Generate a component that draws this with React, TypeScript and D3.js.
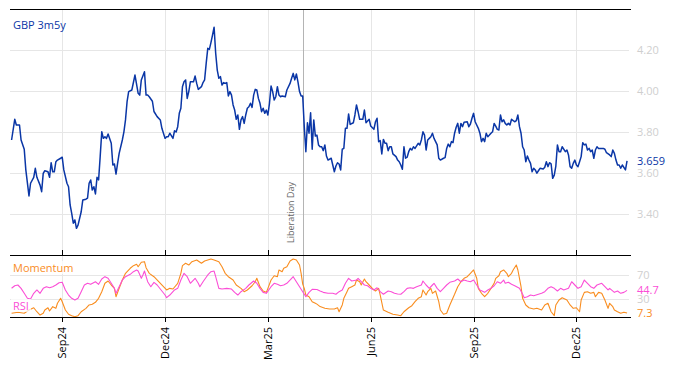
import React from 'react';
import * as d3 from 'd3';

// x is a weekday index: 0 = Mon 2 Sep 2024
const tickDays = [0, 65, 130, 195, 260, 325];
const tickLabels = ['Sep24', 'Dec24', 'Mar25', 'Jun25', 'Sep25', 'Dec25'];
const eventDay = 152;
const eventLabel = 'Liberation Day';

const seriesName = 'GBP 3m5y';
const mainTicks = [3.4, 3.6, 3.8, 4.0, 4.2];
const subTicks = [30, 70];

const gbp3m5y: [number, number][] = [
  [-32, 3.761], [-30, 3.862], [-29, 3.834], [-27, 3.834], [-26, 3.761], [-24, 3.716], [-23, 3.615], [-21, 3.488],
  [-20, 3.55], [-18, 3.579], [-17, 3.623], [-16, 3.579], [-14, 3.541], [-13, 3.509], [-12, 3.598], [-11, 3.611],
  [-9, 3.606], [-8, 3.579], [-7, 3.65], [-6, 3.606], [-5, 3.606], [-4, 3.655], [-3, 3.663], [-1, 3.672],
  [0, 3.677], [1, 3.615], [3, 3.55], [4, 3.533], [5, 3.444], [6, 3.403], [7, 3.355], [8, 3.371],
  [9, 3.33], [10, 3.346], [12, 3.411], [13, 3.468], [15, 3.472], [16, 3.477], [17, 3.55], [18, 3.566],
  [19, 3.517], [20, 3.533], [21, 3.498], [22, 3.579], [23, 3.566], [24, 3.68], [25, 3.801], [26, 3.769],
  [27, 3.777], [28, 3.769], [29, 3.79], [31, 3.745], [32, 3.639], [33, 3.644], [34, 3.595], [35, 3.647],
  [36, 3.696], [38, 3.761], [39, 3.801], [40, 3.859], [41, 3.948], [42, 3.997], [44, 4.005], [46, 4.078],
  [48, 3.989], [49, 3.98], [50, 4.054], [52, 4.094], [53, 3.98], [54, 3.98], [55, 3.972], [57, 3.95],
  [58, 3.9], [60, 3.875], [62, 3.859], [63, 3.818], [65, 3.769], [66, 3.777], [67, 3.777], [68, 3.794],
  [70, 3.769], [71, 3.806], [72, 3.8], [73, 3.826], [74, 3.891], [75, 3.916], [76, 4.021], [77, 4.045],
  [78, 4.054], [79, 3.964], [80, 3.997], [81, 4.045], [83, 4.045], [84, 4.073], [85, 4.037], [86, 4.008],
  [88, 4.021], [89, 4.041], [90, 4.054], [91, 4.135], [92, 4.208], [93, 4.203], [94, 4.236], [95, 4.273],
  [96, 4.311], [97, 4.184], [98, 4.102], [99, 4.062], [100, 4.07], [101, 4.029], [102, 4.041], [103, 4.037],
  [104, 4.041], [105, 3.976], [106, 3.997], [107, 3.98], [108, 3.932], [109, 3.907], [110, 3.862], [111, 3.883],
  [112, 3.813], [113, 3.859], [114, 3.875], [115, 3.842], [116, 3.883], [117, 3.916], [118, 3.923], [119, 3.94],
  [120, 3.92], [121, 3.98], [122, 4.008], [123, 4.005], [124, 3.964], [125, 3.94], [126, 3.899], [127, 3.916],
  [128, 3.891], [129, 3.907], [130, 3.883], [131, 3.94], [132, 4.024], [133, 3.997], [134, 3.956], [135, 3.972],
  [136, 4.021], [137, 3.98], [138, 3.972], [139, 3.976], [141, 3.972], [142, 4.005], [144, 4.037], [145, 4.062],
  [146, 4.086], [147, 4.054], [148, 4.083], [149, 4.045], [150, 3.997], [151, 3.976], [152, 3.976], [153, 3.826],
  [154, 3.704], [155, 3.845], [156, 3.794], [157, 3.894], [158, 3.716], [159, 3.859], [160, 3.78], [161, 3.785],
  [162, 3.737], [163, 3.728], [164, 3.728], [165, 3.709], [166, 3.737], [167, 3.683], [168, 3.663], [170, 3.672],
  [171, 3.639], [172, 3.606], [173, 3.634], [174, 3.65], [175, 3.644], [176, 3.615], [177, 3.716], [178, 3.72],
  [179, 3.818], [180, 3.818], [181, 3.888], [182, 3.837], [184, 3.845], [185, 3.883], [186, 3.932], [187, 3.899],
  [188, 3.862], [190, 3.862], [191, 3.907], [192, 3.845], [194, 3.862], [195, 3.829], [197, 3.813], [198, 3.85],
  [199, 3.867], [200, 3.753], [201, 3.758], [202, 3.693], [203, 3.764], [204, 3.745], [205, 3.745], [206, 3.709],
  [207, 3.728], [208, 3.728], [209, 3.693], [211, 3.68], [212, 3.663], [213, 3.655], [214, 3.639], [215, 3.618],
  [216, 3.728], [217, 3.672], [218, 3.677], [219, 3.704], [220, 3.72], [221, 3.712], [222, 3.728], [223, 3.72],
  [225, 3.745], [226, 3.737], [227, 3.761], [228, 3.801], [229, 3.785], [230, 3.712], [231, 3.761], [232, 3.769],
  [233, 3.777], [234, 3.794], [235, 3.769], [236, 3.753], [237, 3.737], [238, 3.672], [239, 3.663], [241, 3.672],
  [242, 3.675], [243, 3.72], [244, 3.741], [245, 3.728], [246, 3.753], [247, 3.748], [248, 3.794], [249, 3.823],
  [250, 3.842], [251, 3.794], [252, 3.842], [253, 3.826], [254, 3.848], [256, 3.85], [257, 3.826], [258, 3.839],
  [259, 3.867], [260, 3.891], [261, 3.85], [263, 3.818], [264, 3.794], [265, 3.753], [266, 3.769], [267, 3.753],
  [268, 3.794], [269, 3.777], [270, 3.785], [271, 3.794], [272, 3.801], [273, 3.842], [274, 3.829], [275, 3.813],
  [276, 3.81], [277, 3.883], [278, 3.85], [279, 3.859], [280, 3.842], [281, 3.834], [282, 3.842], [283, 3.834],
  [284, 3.862], [286, 3.85], [287, 3.855], [288, 3.883], [289, 3.826], [290, 3.794], [291, 3.728], [292, 3.712],
  [293, 3.655], [294, 3.683], [295, 3.663], [296, 3.647], [297, 3.606], [298, 3.623], [299, 3.615], [300, 3.599],
  [301, 3.611], [302, 3.623], [304, 3.62], [305, 3.628], [306, 3.655], [307, 3.631], [308, 3.65], [309, 3.645],
  [310, 3.574], [311, 3.59], [312, 3.634], [313, 3.737], [314, 3.704], [315, 3.704], [316, 3.728], [318, 3.704],
  [319, 3.712], [320, 3.688], [321, 3.631], [322, 3.623], [323, 3.647], [324, 3.663], [325, 3.639], [326, 3.631],
  [327, 3.655], [328, 3.68], [329, 3.748], [330, 3.737], [331, 3.741], [332, 3.712], [333, 3.72], [334, 3.704],
  [335, 3.712], [336, 3.672], [337, 3.712], [338, 3.728], [339, 3.72], [341, 3.72], [342, 3.72], [343, 3.716],
  [344, 3.699], [346, 3.688], [347, 3.68], [348, 3.712], [349, 3.696], [350, 3.663], [351, 3.639], [352, 3.639],
  [353, 3.623], [354, 3.639], [356, 3.615], [357, 3.659],
];

const momentum: [number, number][] = [
  [-32, 6.9], [-28, 8.6], [-24, 6.9], [-21, 12.3], [-18, 16.1], [-16, 9.5], [-14, 4.1], [-12, 6.9],
  [-11, 12.3], [-9, 16.1], [-8, 10.7], [-6, 17.8], [-4, 15.1], [-3, 23.4], [-1, 31.6], [0, 26],
  [2, 12.3], [4, 5.3], [6, 3], [8, 1.3], [10, 3], [12, 9.5], [15, 15.1], [17, 20.6],
  [19, 21.7], [21, 25], [23, 31.6], [25, 42.5], [27, 56.3], [29, 60.1], [31, 53.5], [33, 48],
  [34, 34.2], [36, 48], [38, 61.7], [40, 72.7], [43, 81], [45, 85.3], [47, 87.6], [48, 83.6],
  [50, 90.9], [52, 91.9], [53, 82], [55, 72.7], [58, 67.2], [61, 58.9], [64, 50.7], [66, 45.3],
  [68, 48], [70, 46.9], [73, 56.3], [75, 72.7], [76, 85.3], [78, 89.2], [80, 86.4], [82, 91.9],
  [85, 94.7], [88, 89.2], [90, 93], [92, 94.7], [94, 96.3], [96, 94.7], [99, 91.9], [101, 83.6],
  [103, 72.7], [105, 67.2], [108, 61.7], [110, 53.5], [113, 48], [115, 42.5], [117, 45.3], [120, 52.3],
  [122, 58.9], [123, 64.5], [125, 50.7], [127, 43.6], [129, 41.4], [130, 48], [132, 61.7], [134, 68.8],
  [136, 67.2], [137, 78.2], [139, 75.4], [140, 81], [142, 83.6], [144, 93], [146, 96.3], [148, 94.7],
  [150, 86.4], [151, 72.7], [152, 55], [153, 48], [154, 37], [156, 34.2], [158, 26], [160, 23.4],
  [161, 22], [163, 18], [166, 15.1], [169, 14], [172, 14], [174, 16.1], [175, 9.5], [177, 20.6],
  [178, 31.6], [180, 42.5], [181, 48], [183, 50.7], [185, 53.5], [186, 61.7], [188, 58.9], [189, 53.5],
  [191, 63.4], [192, 58.9], [194, 53.5], [196, 48], [198, 43.6], [200, 48], [201, 37], [203, 12.3],
  [206, 8.6], [209, 5.3], [212, 4.1], [214, 3], [216, 9.5], [219, 16.1], [221, 19.4], [223, 26],
  [225, 31.6], [227, 34.2], [228, 45.3], [230, 37], [231, 42.5], [233, 48], [234, 39.8], [236, 43.6],
  [238, 26], [239, 12.3], [241, 5.3], [243, 6.9], [245, 20.6], [248, 38.2], [250, 50.7], [252, 58.9],
  [254, 64.5], [256, 67.2], [258, 72.7], [260, 78.2], [262, 64.5], [263, 48], [265, 39.8], [267, 34.2],
  [269, 39.8], [271, 48], [273, 56.3], [274, 64.5], [276, 68.8], [277, 75.4], [279, 78.2], [281, 72.7],
  [282, 67.2], [284, 72.7], [285, 78.2], [287, 86.4], [288, 78.2], [290, 50.7], [291, 31.6], [293, 20.6],
  [295, 16.1], [298, 14], [300, 15.1], [303, 12.3], [305, 20.6], [307, 23.4], [309, 9.5], [311, 3],
  [312, 20.6], [314, 28.8], [316, 32.6], [319, 28.8], [321, 20.6], [323, 15.1], [325, 16.1], [327, 9.5],
  [328, 28.8], [330, 41.4], [332, 42.5], [334, 39.8], [336, 41.4], [337, 34.2], [339, 41.4], [341, 39.8],
  [343, 28.8], [345, 15.1], [346, 23.4], [348, 17.8], [349, 12.3], [351, 9.5], [353, 6.9], [355, 8.6],
  [357, 7.3],
];

const rsi: [number, number][] = [
  [-32, 48.1], [-30, 52.3], [-28, 53.5], [-26, 48], [-24, 39.8], [-22, 31.6], [-20, 30.5], [-18, 39.8],
  [-16, 45.3], [-14, 39.8], [-12, 48], [-10, 50.7], [-8, 49], [-6, 50.7], [-4, 53.5], [-2, 57.3],
  [0, 57.9], [2, 45.3], [4, 37], [6, 31.6], [8, 28.8], [10, 31.6], [12, 42.5], [14, 53.5],
  [16, 56.3], [18, 54.6], [21, 58.9], [23, 54.6], [25, 63.4], [27, 67.2], [29, 64.5], [31, 56.3],
  [33, 48], [34, 39.8], [36, 50.7], [38, 61.7], [40, 67.2], [43, 71.1], [45, 75.4], [47, 78.2],
  [48, 76.5], [50, 64.5], [51, 70], [52, 76.5], [54, 58.9], [56, 50.7], [58, 57.9], [60, 53.5],
  [63, 43.6], [65, 37], [66, 32.6], [68, 37], [71, 45.3], [73, 48], [75, 61.7], [77, 72.7],
  [79, 67.2], [81, 56.3], [84, 64.5], [86, 56.3], [87, 50.7], [89, 58.9], [92, 70], [94, 75.4],
  [96, 76.5], [97, 67.2], [99, 48], [101, 46.9], [104, 48], [107, 46.9], [109, 41.4], [111, 37],
  [113, 42.5], [116, 48], [118, 53.5], [121, 60.1], [123, 56.3], [125, 48], [127, 41.4], [129, 39.8],
  [132, 50.7], [134, 56.3], [136, 54.6], [138, 52.3], [140, 53.5], [142, 56.3], [145, 64.5], [146, 67.2],
  [148, 58.9], [150, 50.7], [152, 42.5], [154, 34.2], [156, 41.4], [158, 46.4], [161, 46], [163, 43.6],
  [165, 41.4], [168, 39.8], [171, 39.8], [173, 38.2], [175, 42.5], [177, 45.3], [179, 56.3], [181, 64.5],
  [183, 60.1], [186, 61.7], [187, 64.5], [189, 58.9], [191, 53.5], [193, 52.3], [195, 48], [197, 45.3],
  [199, 49], [201, 42.5], [203, 38.2], [206, 43.6], [208, 42.5], [210, 39.8], [212, 38.7], [214, 38.2],
  [216, 42.5], [218, 48], [220, 49], [222, 48], [224, 50.7], [227, 53.5], [228, 60.1], [230, 53.5],
  [232, 48], [234, 53.5], [235, 56.3], [237, 48], [239, 42.5], [241, 48], [243, 53.5], [245, 57.9],
  [248, 60.1], [250, 63.4], [252, 58.9], [254, 61.7], [256, 60.1], [258, 58.9], [260, 61.7], [262, 53.5],
  [264, 45.3], [267, 41.4], [269, 45.3], [271, 48], [273, 52.3], [275, 58.9], [277, 56.3], [279, 61.7],
  [280, 56.3], [282, 57.9], [284, 54.6], [286, 52.3], [289, 48], [291, 38.2], [292, 32.6], [294, 34.2],
  [296, 37], [298, 35.9], [301, 38.2], [303, 39.8], [305, 42.5], [307, 48], [309, 50.7], [311, 48],
  [313, 43.6], [315, 48], [317, 45.3], [320, 48], [322, 58.9], [324, 53.5], [326, 48], [328, 50.7],
  [330, 61.7], [332, 56.3], [334, 50.7], [336, 48], [338, 53.5], [341, 56.3], [343, 50.7], [345, 45.3],
  [346, 48], [349, 41.4], [351, 43.6], [353, 39.8], [355, 41.4], [357, 44.7],
];

const BLUE = '#0a36a6';
const ORANGE = '#f98d1f';
const PINK = '#fb4ed6';
const GRID = '#e6e6e6';
const FAINT = '#cfcfcf';
const FONT = "'Segoe UI', 'Open Sans', sans-serif";

export default function App() {
  const left = 10;
  const right = 631;
  const mainTop = 9;
  const mainBottom = 255;
  const subBottom = 317;

  const x = d3.scaleLinear().domain([-33, 359.5]).range([left, right]);
  const y = d3.scaleLinear().domain([3.2, 4.4]).range([mainBottom, mainTop]);
  const y2 = d3.scaleLinear().domain([0, 100]).range([317.5, 256.75]);

  const mainLine = d3.line<[number, number]>().x(d => x(d[0])).y(d => y(d[1]));
  const subLine = d3.line<[number, number]>().x(d => x(d[0])).y(d => y2(d[1]));

  const lastMain = gbp3m5y[gbp3m5y.length - 1];
  const lastMom = momentum[momentum.length - 1];
  const lastRsi = rsi[rsi.length - 1];
  const labelX = right + 6;

  return (
    <svg width={674} height={366} style={{ position: 'absolute', left: 0, top: 0, background: '#fff' }}
      fontFamily={FONT}>
      {/* grid */}
      {tickDays.map(d => (
        <line key={'vg' + d} x1={Math.round(x(d)) + 0.5} x2={Math.round(x(d)) + 0.5}
          y1={mainTop} y2={subBottom} stroke={GRID} />
      ))}
      {mainTicks.map(t => (
        <line key={'hg' + t} x1={left} x2={right - 2} y1={Math.round(y(t)) + 0.5} y2={Math.round(y(t)) + 0.5} stroke={GRID} />
      ))}
      {subTicks.map(t => (
        <line key={'sg' + t} x1={left} x2={right - 2} y1={Math.round(y2(t)) + 0.5} y2={Math.round(y2(t)) + 0.5} stroke={GRID} />
      ))}

      {/* event marker */}
      <line x1={Math.round(x(eventDay)) + 0.5} x2={Math.round(x(eventDay)) + 0.5} y1={mainTop} y2={subBottom}
        stroke="#b4b4b4" />
      <text transform={`translate(${x(eventDay) - 9},243) rotate(-90)`} fontSize={9} fill="#666">{eventLabel}</text>

      {/* series */}
      <path d={mainLine(gbp3m5y) || ''} fill="none" stroke={BLUE} strokeWidth={1.5} strokeLinejoin="round" />
      <path d={subLine(momentum) || ''} fill="none" stroke={ORANGE} strokeWidth={1.1} strokeLinejoin="round" />
      <path d={subLine(rsi) || ''} fill="none" stroke={PINK} strokeWidth={1.1} strokeLinejoin="round" />

      {/* frame */}
      <line x1={left} x2={right} y1={mainTop + 0.5} y2={mainTop + 0.5} stroke="#000" />
      <line x1={left} x2={right} y1={mainBottom + 0.5} y2={mainBottom + 0.5} stroke="#000" />
      <line x1={left} x2={right} y1={subBottom + 0.5} y2={subBottom + 0.5} stroke="#000" />
      {tickDays.map(d => (
        <g key={'tk' + d}>
          <line x1={Math.round(x(d)) + 0.5} x2={Math.round(x(d)) + 0.5} y1={mainBottom - 5} y2={mainBottom} stroke="#000" />
          <line x1={Math.round(x(d)) + 0.5} x2={Math.round(x(d)) + 0.5} y1={subBottom} y2={subBottom + 5} stroke="#000" />
        </g>
      ))}
      {tickDays.map((d, i) => (
        <text key={'tl' + d} transform={`translate(${x(d) + 4},327) rotate(-90)`} textAnchor="end"
          fontSize={11} fill="#000">{tickLabels[i]}</text>
      ))}

      {/* right axis labels */}
      {mainTicks.map(t => (
        <text key={'yl' + t} x={labelX} y={y(t)} dy="0.35em" fontSize={11} fill={FAINT}>{d3.format('.2f')(t)}</text>
      ))}
      {subTicks.map(t => (
        <text key={'sl' + t} x={labelX} y={y2(t)} dy="0.35em" fontSize={11} fill={FAINT}>{t}</text>
      ))}
      <text x={labelX} y={y(lastMain[1])} dy="0.35em" fontSize={11} fill={BLUE}>{d3.format('.3f')(lastMain[1])}</text>
      <text x={labelX} y={y2(lastRsi[1])} dy="0.35em" fontSize={11} fill={PINK}>{d3.format('.1f')(lastRsi[1])}</text>
      <text x={labelX} y={y2(lastMom[1])} dy="0.35em" fontSize={11} fill={ORANGE}>{d3.format('.1f')(lastMom[1])}</text>

      {/* panel labels */}
      <text x={13} y={29} fontSize={11} fill={BLUE}>{seriesName}</text>
      <rect x={11} y={261} width={64} height={13} fill="#fff" opacity={0.75} />
      <text x={13} y={271.5} fontSize={11} fill={ORANGE}>Momentum</text>
      <rect x={11} y={299} width={20} height={13} fill="#fff" opacity={0.75} />
      <text x={13} y={310} fontSize={11} fill={PINK}>RSI</text>
    </svg>
  );
}
